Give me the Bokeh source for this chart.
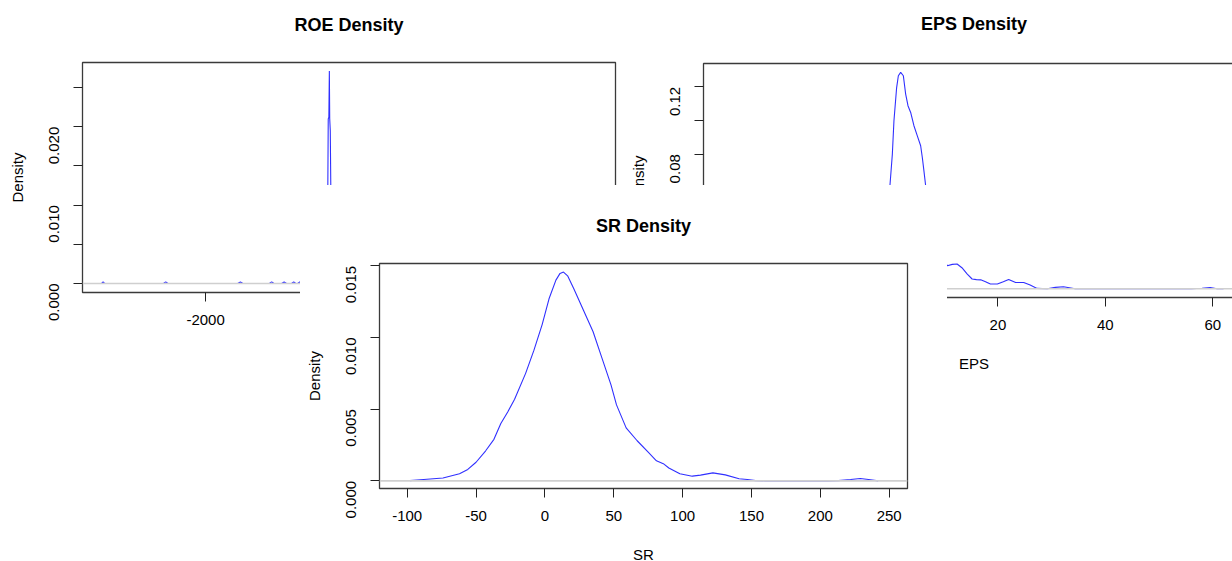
import math
from bokeh.plotting import figure
from bokeh.models import FixedTicker, Range1d, Span
from bokeh.layouts import column
from bokeh.embed import file_html
from bokeh.resources import INLINE

FONT = "Liberation Sans"

# ---------------- data ----------------
roe_x = [-3700, -3680, -3656, -3632, -3600, -2680, -2644, -2608, -1480, -1438, -1396,
         -970, -932, -894, -770, -731, -692, -610, -576, -542, -512, -479, -446,
         -80, -45, -25, -18, -8, 0, 6, 15, 25, 40, 60, 100, 4400]
roe_y = [0, 0, 0.0002, 0, 0, 0, 0.0002, 0, 0, 0.0002, 0,
         0, 0.0002, 0, 0, 0.0002, 0, 0, 0.0002, 0, 0, 0.0002, 0,
         0, 0.0015, 0.012, 0.021, 0.0212, 0.0271, 0.021, 0.0195, 0.011, 0.003, 0.0003, 0, 0]

eps_x = [-31, -20, -12, -7, -4, -2, -0.8, -0.1, 0.35, 0.65, 1.15, 1.47, 1.9, 2.4, 2.83,
         3.26, 3.76, 4.37, 5.0, 5.62, 5.93, 6.23, 6.55, 7.5, 8.5, 9.5, 10.6, 11.5, 12.4,
         13.3, 14.3, 15.2, 16.0, 16.8, 17.7, 18.6, 19.9, 21.0, 22.0, 23.3, 24.8, 26.0,
         27.3, 29.2, 30.7, 32.2, 34.4, 40, 50, 56, 58.0, 59.5, 60.8, 62]
eps_y = [0, 0.0003, 0.002, 0.008, 0.02, 0.035, 0.05, 0.0612, 0.080, 0.0999, 0.1196,
         0.1266, 0.1286, 0.1266, 0.1157, 0.1088, 0.1048, 0.0969, 0.0909, 0.0850, 0.0780,
         0.0701, 0.0612, 0.045, 0.029, 0.018, 0.0137, 0.0145, 0.0147, 0.0125, 0.0087,
         0.0058, 0.0054, 0.0053, 0.0042, 0.0028, 0.0028, 0.0042, 0.0055, 0.0037, 0.0037,
         0.0022, 0.0002, 0.0, 0.0008, 0.0012, 0.0, 0, 0, 0, 0.0003, 0.0007, 0.0, 0]

sr_x = [-98, -88, -74, -62, -56, -50, -43, -37, -32, -27, -22, -14, -8, -2, 3, 8, 11,
        13.5, 16.5, 21, 28, 35, 42, 48, 52, 59, 67, 75, 81, 86, 90, 98, 107, 113, 122,
        131, 141, 147, 153, 160, 205, 213, 222, 229, 235, 242]
sr_y = [0.00002, 0.0001, 0.0002, 0.0005, 0.0008, 0.0013, 0.0021, 0.0029, 0.0040,
        0.0048, 0.0057, 0.0075, 0.0091, 0.0109, 0.0127, 0.0140, 0.01447, 0.01456,
        0.0143, 0.0134, 0.0119, 0.0104, 0.0084, 0.0067, 0.0053, 0.0037, 0.0028, 0.0020,
        0.0014, 0.0012, 0.0009, 0.0005, 0.00033, 0.0004, 0.00056, 0.00042, 0.00015,
        0.0001, 0.00002, 0, 0, 0.00002, 0.0001, 0.00017, 0.0001, 0]

roe_xticks = [-2000, 0, 2000, 4000]
roe_yticks = [0, 0.005, 0.01, 0.015, 0.02, 0.025]
roe_ylabels = ["0.000", "", "0.010", "", "0.020", ""]

eps_xticks = [-20, 0, 20, 40, 60]
eps_yticks = [0, 0.02, 0.04, 0.06, 0.08, 0.1, 0.12]
eps_ylabels = ["0.00", "", "0.04", "", "0.08", "", "0.12"]

sr_xticks = [-100, -50, 0, 50, 100, 150, 200, 250]
sr_yticks = [0, 0.005, 0.01, 0.015]
sr_ylabels = ["0.000", "0.005", "0.010", "0.015"]

BL, BR, BT, BB = 170, 60, 100, 150


def make_panel(title, xlabel, xs, ys, xr, yr, xticks, yticks, ylabels, fw, fh, tstand):
    p = figure(title=title, width=BL + fw + BR, height=BT + fh + BB,
               x_range=Range1d(*xr), y_range=Range1d(*yr),
               min_border_left=BL, min_border_right=BR,
               min_border_top=BT, min_border_bottom=BB,
               output_backend="svg", toolbar_location=None)
    p.background_fill_color = "white"
    p.border_fill_color = "white"
    p.outline_line_color = "#3a3a3a"
    p.outline_line_width = 1.3
    p.grid.visible = False
    p.title.text_font = FONT
    p.title.text_font_size = "18px"
    p.title.text_font_style = "bold"
    p.title.text_color = "black"
    p.title.align = "center"
    p.title.standoff = tstand
    p.xaxis.axis_label = xlabel
    p.yaxis.axis_label = "Density"
    for ax in (p.xaxis[0], p.yaxis[0]):
        ax.axis_line_color = None
        ax.major_tick_out = 9
        ax.major_tick_in = 0
        ax.major_tick_line_color = "#222222"
        ax.minor_tick_line_color = None
        ax.major_label_text_font = FONT
        ax.major_label_text_font_size = "15px"
        ax.major_label_text_color = "black"
        ax.axis_label_text_font = FONT
        ax.axis_label_text_font_size = "15px"
        ax.axis_label_text_font_style = "normal"
        ax.axis_label_text_color = "black"
    p.xaxis[0].ticker = FixedTicker(ticks=xticks)
    p.xaxis[0].major_label_overrides = {t: str(t) for t in xticks}
    p.xaxis[0].major_label_standoff = 13
    p.xaxis[0].axis_label_standoff = 22
    p.yaxis[0].ticker = FixedTicker(ticks=yticks)
    p.yaxis[0].major_label_overrides = {t: s for t, s in zip(yticks, ylabels)}
    p.yaxis[0].major_label_orientation = math.pi / 2
    p.yaxis[0].major_label_standoff = 19
    p.yaxis[0].axis_label_standoff = 16
    p.line(xs, ys, line_color="#3030ff", line_width=1.1)
    p.add_layout(Span(location=0, dimension="width", line_color="#cfcfcf", line_width=1.6))
    return p


roe = make_panel("ROE Density", "ROE", roe_x, roe_y, (-3989, 4624), (-0.00115, 0.02819),
                 roe_xticks, roe_yticks, roe_ylabels, 533, 230, 56)
eps = make_panel("EPS Density", "EPS", eps_x, eps_y, (-34.8, 65.9), (-0.0052, 0.1339),
                 eps_xticks, eps_yticks, eps_ylabels, 541, 234, 59)
sr = make_panel("SR Density", "SR", sr_x, sr_y, (-120.1, 263.3), (-0.00053, 0.01516),
                sr_xticks, sr_yticks, sr_ylabels, 528, 225, 56)

# frame positions (window): ROE 82..615 / top 62, EPS left 703 / top 63, SR 379..907 / top 263
eps.styles = {"position": "absolute", "left": f"{703 - BL - 8}px", "top": f"{63 - BT - 8}px",
              "z-index": "1"}
roe.styles = {"position": "absolute", "left": f"{82 - BL - 8}px", "top": f"{62 - BT - 8}px",
              "z-index": "2", "clip-path": f"inset(0px {615 + BR - 626}px 0px 0px)"}
# SR panel covers window x 300..947, y 185..bottom
sr_left = 379 - BL
sr_top = 263 - BT
sr.styles = {"position": "absolute", "left": f"{sr_left - 8}px", "top": f"{sr_top - 8}px",
             "z-index": "3",
             "clip-path": f"inset({185 - sr_top}px {907 + BR - 947}px 0px {300 - sr_left}px)"}

layout = column(eps, roe, sr)
layout.styles = {"position": "absolute", "left": "8px", "top": "8px",
                 "width": "1224px", "height": "553px", "overflow": "hidden"}

p = layout
open("out.html", "w").write(file_html(p, INLINE))
